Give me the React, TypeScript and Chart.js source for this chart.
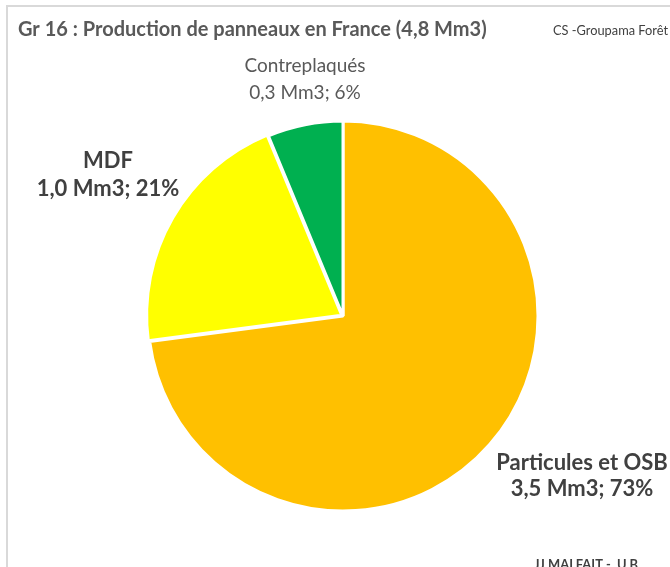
import React, { useEffect, useRef } from 'react';
import { Chart, registerables } from 'chart.js';

Chart.register(...registerables);

// ---- data ----
const categories = ['Particules et OSB', 'MDF', 'Contreplaqués'];
const values = [3.5, 1.0, 0.3];
const unit = 'Mm3';
const colors = ['#FFC000', '#FFFF00', '#00B050'];
const explode = [0, 6, 0];
const titleText = 'Gr 16 : Production de panneaux en France (4,8 Mm3)';
const sourceText = 'CS -Groupama Forêt';
const authorText = 'JJ MALFAIT -  U.B.';

// ---- layout (text placement) ----
const labelLayout = [
  { x: 582, y1: 470, y2: 496, bold: true, size: 22, color: '#404040' },
  { x: 108, y1: 168, y2: 196, bold: true, size: 22, color: '#404040' },
  { x: 305, y1: 72, y2: 99, bold: false, size: 19, color: '#595959' },
];

const W = 670;
const H = 567;
const FONT = 'Lato, "Noto Sans", sans-serif';

const fmt = (v: number) => v.toFixed(1).replace('.', ',');

const decorPlugin = {
  id: 'decor',
  beforeDraw(chart: any) {
    const ctx = chart.ctx;
    ctx.save();
    ctx.fillStyle = '#ffffff';
    ctx.fillRect(0, 0, W, H);
    ctx.strokeStyle = '#d9d9d9';
    ctx.lineWidth = 2;
    ctx.strokeRect(7, 6, W + 20, H + 20);
    ctx.restore();
  },
  afterDraw(chart: any) {
    const ctx = chart.ctx;
    const total = values.reduce((a, b) => a + b, 0);
    ctx.save();
    ctx.textBaseline = 'alphabetic';
    // title
    ctx.fillStyle = '#595959';
    ctx.font = `bold 20px ${FONT}`;
    ctx.textAlign = 'left';
    ctx.fillText(titleText, 18, 36, 474);
    // source
    ctx.fillStyle = '#404040';
    ctx.font = `13px ${FONT}`;
    ctx.fillText(sourceText, 553, 35, 115);
    // author
    ctx.font = `bold 13px ${FONT}`;
    ctx.fillText(authorText, 534, 569, 107);
    // labels
    ctx.textAlign = 'center';
    categories.forEach((cat, i) => {
      const L = labelLayout[i];
      const pct = Math.round((values[i] / total) * 100);
      ctx.fillStyle = L.color;
      ctx.font = `${L.bold ? 'bold ' : ''}${L.size}px ${FONT}`;
      ctx.fillText(cat, L.x, L.y1);
      ctx.fillText(`${fmt(values[i])} ${unit}; ${pct}%`, L.x, L.y2);
    });
    ctx.restore();
  },
};

export default function App() {
  const canvasRef = useRef<HTMLCanvasElement | null>(null);

  useEffect(() => {
    const canvas = canvasRef.current;
    if (!canvas) return;
    const chart = new Chart(canvas, {
      type: 'pie',
      data: {
        labels: categories,
        datasets: [
          {
            data: values,
            backgroundColor: colors,
            borderColor: '#ffffff',
            borderWidth: 3,
            offset: explode,
          } as any,
        ],
      },
      options: {
        responsive: false,
        animation: false,
        radius: 195,
        layout: { padding: { left: 16, right: 0, top: 65, bottom: 0 } },
        plugins: {
          legend: { display: false },
          tooltip: { enabled: false },
          title: { display: false },
        },
      } as any,
      plugins: [decorPlugin],
    });
    return () => chart.destroy();
  }, []);

  return (
    <div style={{ position: 'fixed', left: 0, top: 0, width: W, height: H, background: '#fff' }}>
      <canvas ref={canvasRef} width={W} height={H} style={{ width: W, height: H, display: 'block' }} />
    </div>
  );
}
